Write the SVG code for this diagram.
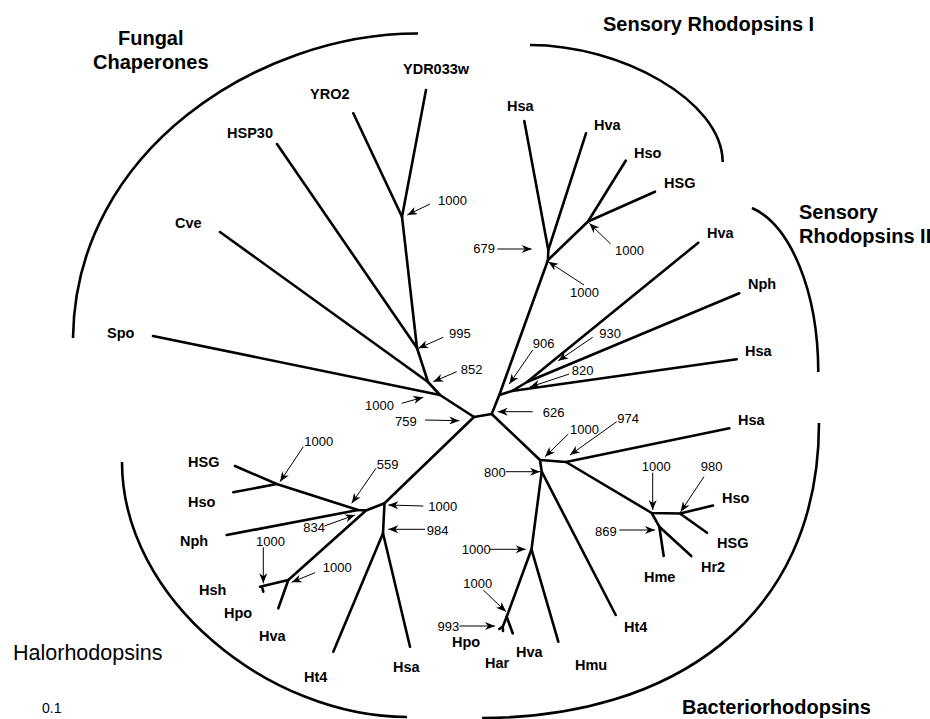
<svg xmlns="http://www.w3.org/2000/svg" width="930" height="719" viewBox="0 0 930 719">
<style>
.br{stroke:#000;stroke-width:2.6;fill:none;stroke-linecap:round;stroke-linejoin:round}
.arc{stroke:#000;stroke-width:2.6;fill:none}
.ar{stroke:#000;stroke-width:1;fill:none}
.lf{font-family:"Liberation Sans",Arial,sans-serif;font-weight:bold;font-size:14.5px;fill:#000}
.cl{font-family:"Liberation Sans",Arial,sans-serif;font-weight:bold;font-size:20px;fill:#000}
.bs{font-family:"Liberation Sans",Arial,sans-serif;font-size:13px;fill:#000}
</style>
<defs>
<marker id="ah" viewBox="0 0 10 8" refX="10" refY="4" markerWidth="11" markerHeight="8" markerUnits="userSpaceOnUse" orient="auto">
<path d="M0,0 L10,4 L0,8 L3,4 z" fill="#000"/>
</marker>
</defs>
<rect width="930" height="719" fill="#fff"/>

<g id="clade-arcs">
<path class="arc" d="M418,33.5 C260,33 75,150 73,338"/>
<path class="arc" d="M530,45 C620,45 722,100 722.7,162"/>
<path class="arc" d="M752,208 C790,225 818,290 818.3,372"/>
<path class="arc" d="M819,423 C819,620 670,718 482,718"/>
<path class="arc" d="M122,462 C122,600 270,717 407,717"/>
</g>

<g id="connectors">
<path class="br" d="M474,417 L491.7,414"/>
<path class="br" d="M474,417 L440,395 L153,336"/>
<path class="br" d="M440,395 L428,382 L220,232"/>
<path class="br" d="M428,382 L417,348 L277,144"/>
<path class="br" d="M417,348 L402,216.7 L353.3,113.3"/>
<path class="br" d="M402,216.7 L426,90"/>

<path class="br" d="M491.7,414 L499.3,395 L548,260 L548.3,250 L524.3,121"/>
<path class="br" d="M548.3,250 L586,133.3"/>
<path class="br" d="M548,260 L588,221.5 L625.7,160.7"/>
<path class="br" d="M588,221.5 L655,191.7"/>
<path class="br" d="M499.3,395 L512,391 L736.7,359.3"/>
<path class="br" d="M512,391 L527,382 L698.3,242.7"/>
<path class="br" d="M527,382 L739.3,293.3"/>

<path class="br" d="M491.7,414 L540,460 L566,462 L729.3,428.3"/>
<path class="br" d="M566,462 L651.7,513 L680,513.5 L713,505.5"/>
<path class="br" d="M680,513.5 L707,532.7"/>
<path class="br" d="M651.7,513 L659.3,526.7 L663.7,556"/>
<path class="br" d="M659.3,526.7 L691.3,556"/>
<path class="br" d="M540,460 L541.7,471.7 L615.7,615"/>
<path class="br" d="M541.7,471.7 L531.5,549.3 L558.3,641.7"/>
<path class="br" d="M531.5,549.3 L506.7,616.7 L512.7,633.3"/>
<path class="br" d="M506.7,616.7 L502.7,626.7 L499.3,629"/>
<path class="br" d="M502.7,626.7 L503,631"/>

<path class="br" d="M474,417 L384.5,503.3 L383,533.3 L333.3,651.7"/>
<path class="br" d="M383,533.3 L410,646.7"/>
<path class="br" d="M384.5,503.3 L366,510.5 L358,510 L276.7,484 L235,466"/>
<path class="br" d="M276.7,484 L233.3,492.3"/>
<path class="br" d="M358,510 L226.7,535"/>
<path class="br" d="M366,510.5 L288.3,580 L260,586.7"/>
<path class="br" d="M262,587 L263.3,591.7"/>
<path class="br" d="M288.3,580 L278.3,608.3"/>
</g>

<g id="bootstrap-arrows">
<line class="ar" x1="430" y1="204" x2="407.3" y2="215" marker-end="url(#ah)"/>
<line class="ar" x1="443.3" y1="337.3" x2="418.3" y2="348.3" marker-end="url(#ah)"/>
<line class="ar" x1="456.7" y1="371.7" x2="433.3" y2="381.7" marker-end="url(#ah)"/>
<line class="ar" x1="401.7" y1="403.3" x2="423.3" y2="397.3" marker-end="url(#ah)"/>
<line class="ar" x1="425" y1="420" x2="459.3" y2="420.7" marker-end="url(#ah)"/>
<line class="ar" x1="532.7" y1="411.7" x2="497.7" y2="411.7" marker-end="url(#ah)"/>
<line class="ar" x1="532.7" y1="350" x2="509.3" y2="384" marker-end="url(#ah)"/>
<line class="ar" x1="592.7" y1="337.3" x2="558.3" y2="360.7" marker-end="url(#ah)"/>
<line class="ar" x1="569.3" y1="374" x2="530" y2="387" marker-end="url(#ah)"/>
<line class="ar" x1="497.3" y1="249" x2="531.7" y2="249" marker-end="url(#ah)"/>
<line class="ar" x1="584" y1="285" x2="548.3" y2="261.7" marker-end="url(#ah)"/>
<line class="ar" x1="610.7" y1="244" x2="589.3" y2="223.3" marker-end="url(#ah)"/>
<line class="ar" x1="568.3" y1="434" x2="545" y2="456.7" marker-end="url(#ah)"/>
<line class="ar" x1="616.7" y1="421.7" x2="570" y2="455" marker-end="url(#ah)"/>
<line class="ar" x1="506" y1="471.7" x2="540" y2="471.7" marker-end="url(#ah)"/>
<line class="ar" x1="652.7" y1="472.7" x2="652.7" y2="510" marker-end="url(#ah)"/>
<line class="ar" x1="704" y1="476.7" x2="680.7" y2="511.7" marker-end="url(#ah)"/>
<line class="ar" x1="619.3" y1="530" x2="655" y2="530" marker-end="url(#ah)"/>
<line class="ar" x1="490" y1="549.3" x2="525.7" y2="549.3" marker-end="url(#ah)"/>
<line class="ar" x1="483.3" y1="590" x2="506" y2="611.7" marker-end="url(#ah)"/>
<line class="ar" x1="459.3" y1="626" x2="495" y2="626" marker-end="url(#ah)"/>
<line class="ar" x1="303.3" y1="446.7" x2="280" y2="481.7" marker-end="url(#ah)"/>
<line class="ar" x1="376" y1="468.3" x2="351.7" y2="503.3" marker-end="url(#ah)"/>
<line class="ar" x1="324.3" y1="526" x2="355" y2="515" marker-end="url(#ah)"/>
<line class="ar" x1="423.3" y1="506" x2="388.3" y2="505" marker-end="url(#ah)"/>
<line class="ar" x1="425" y1="529.3" x2="388.3" y2="529.3" marker-end="url(#ah)"/>
<line class="ar" x1="263.3" y1="547.3" x2="263.3" y2="583.3" marker-end="url(#ah)"/>
<line class="ar" x1="315" y1="572.7" x2="291.7" y2="582.3" marker-end="url(#ah)"/>
</g>

<g id="bootstrap-values">
<text class="bs" x="438" y="205">1000</text>
<text class="bs" x="449" y="338">995</text>
<text class="bs" x="460.7" y="374">852</text>
<text class="bs" x="365" y="410">1000</text>
<text class="bs" x="395" y="426">759</text>
<text class="bs" x="542.7" y="416.5">626</text>
<text class="bs" x="532.7" y="347.5">906</text>
<text class="bs" x="599.3" y="338">930</text>
<text class="bs" x="571.7" y="375">820</text>
<text class="bs" x="473.3" y="253">679</text>
<text class="bs" x="570" y="296.5">1000</text>
<text class="bs" x="615" y="255">1000</text>
<text class="bs" x="570" y="434">1000</text>
<text class="bs" x="617.3" y="422.5">974</text>
<text class="bs" x="484" y="476.5">800</text>
<text class="bs" x="641.7" y="471">1000</text>
<text class="bs" x="700.7" y="471">980</text>
<text class="bs" x="595" y="535.5">869</text>
<text class="bs" x="461.7" y="554">1000</text>
<text class="bs" x="463.3" y="588">1000</text>
<text class="bs" x="437.5" y="631">993</text>
<text class="bs" x="304.3" y="445.5">1000</text>
<text class="bs" x="376.7" y="469">559</text>
<text class="bs" x="303.3" y="532">834</text>
<text class="bs" x="428.3" y="511">1000</text>
<text class="bs" x="426.7" y="535">984</text>
<text class="bs" x="256" y="546">1000</text>
<text class="bs" x="322.7" y="571.5">1000</text>
</g>

<g id="fungal-labels">
<g id="n-YDR033w"><text class="lf" x="403" y="74">YDR033w</text></g>
<g id="n-YRO2"><text class="lf" x="310" y="99">YRO2</text></g>
<g id="n-HSP30"><text class="lf" x="227" y="138">HSP30</text></g>
<g id="n-Cve"><text class="lf" x="175" y="228">Cve</text></g>
<g id="n-Spo"><text class="lf" x="107" y="338">Spo</text></g>
</g>
<g id="sr1-labels">
<g id="n-SR1-Hsa"><text class="lf" x="507" y="111">Hsa</text></g>
<g id="n-SR1-Hva"><text class="lf" x="594" y="130">Hva</text></g>
<g id="n-SR1-Hso"><text class="lf" x="634" y="158">Hso</text></g>
<g id="n-SR1-HSG"><text class="lf" x="664" y="188">HSG</text></g>
</g>
<g id="sr2-labels">
<g id="n-SR2-Hva"><text class="lf" x="707" y="238">Hva</text></g>
<g id="n-SR2-Nph"><text class="lf" x="748" y="289">Nph</text></g>
<g id="n-SR2-Hsa"><text class="lf" x="745" y="356">Hsa</text></g>
</g>
<g id="br-labels">
<g id="n-BR-Hsa"><text class="lf" x="738" y="425">Hsa</text></g>
<g id="n-BR-Hso"><text class="lf" x="722" y="503">Hso</text></g>
<g id="n-BR-HSG"><text class="lf" x="717" y="548">HSG</text></g>
<g id="n-BR-Hr2"><text class="lf" x="701" y="572">Hr2</text></g>
<g id="n-BR-Hme"><text class="lf" x="644" y="582">Hme</text></g>
<g id="n-BR-Ht4"><text class="lf" x="624" y="632">Ht4</text></g>
<g id="n-BR-Hmu"><text class="lf" x="575" y="670">Hmu</text></g>
<g id="n-BR-Hva"><text class="lf" x="516" y="657">Hva</text></g>
<g id="n-BR-Har"><text class="lf" x="485" y="668">Har</text></g>
<g id="n-BR-Hpo"><text class="lf" x="452" y="647">Hpo</text></g>
</g>
<g id="hr-labels">
<g id="n-HR-HSG"><text class="lf" x="188" y="467">HSG</text></g>
<g id="n-HR-Hso"><text class="lf" x="188" y="507">Hso</text></g>
<g id="n-HR-Nph"><text class="lf" x="180" y="546">Nph</text></g>
<g id="n-HR-Hsh"><text class="lf" x="199" y="595">Hsh</text></g>
<g id="n-HR-Hpo"><text class="lf" x="224" y="618">Hpo</text></g>
<g id="n-HR-Hva"><text class="lf" x="259" y="641">Hva</text></g>
<g id="n-HR-Ht4"><text class="lf" x="304" y="682">Ht4</text></g>
<g id="n-HR-Hsa"><text class="lf" x="393" y="672">Hsa</text></g>
</g>

<g id="clade-titles">
<text class="cl" x="118" y="45">Fungal</text>
<text class="cl" x="93" y="69">Chaperones</text>
<text class="cl" x="603" y="31">Sensory Rhodopsins I</text>
<text class="cl" x="799" y="219">Sensory</text>
<text class="cl" x="799" y="243">Rhodopsins II</text>
<text x="13" y="660" font-family="Liberation Sans, Arial, sans-serif" font-size="21.5">Halorhodopsins</text>
<text class="cl" x="682" y="714">Bacteriorhodopsins</text>
<text x="42" y="713" font-family="Liberation Sans, Arial, sans-serif" font-size="14">0.1</text>
</g>
</svg>
